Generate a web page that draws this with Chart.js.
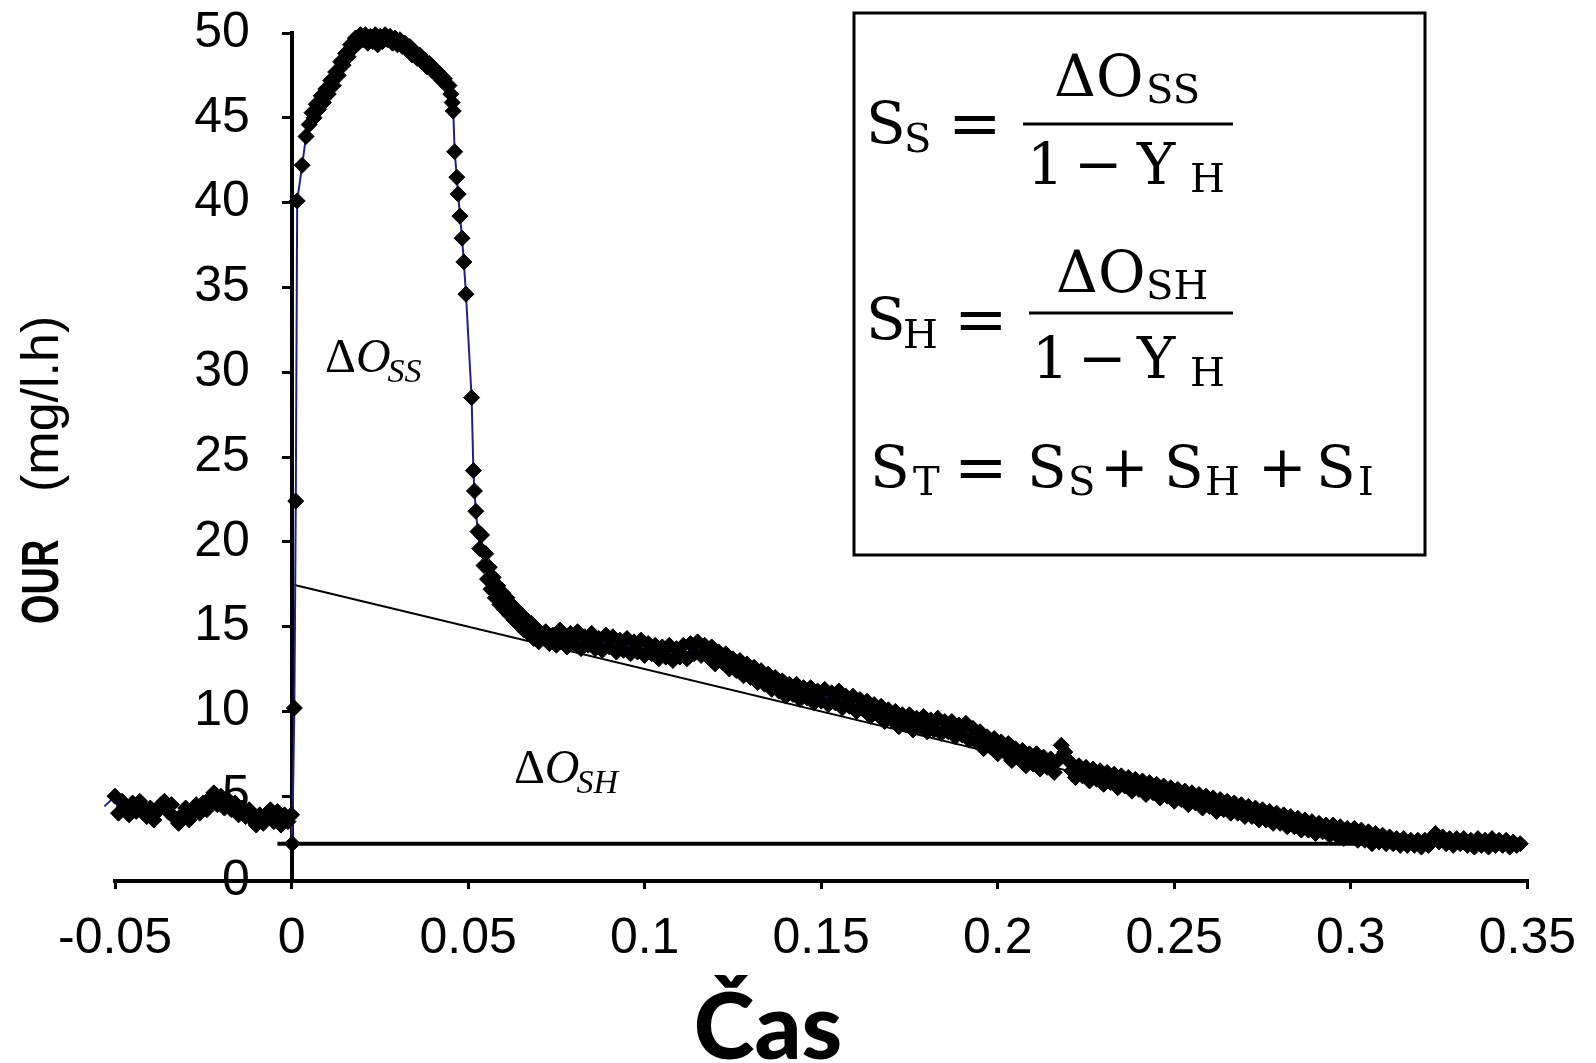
<!DOCTYPE html>
<html>
<head>
<meta charset="utf-8">
<script src="https://cdn.jsdelivr.net/npm/chart.js@4.4.1/dist/chart.umd.min.js"></script>
<style>
  html, body { margin: 0; padding: 0; background: #fff; }
</style>
</head>
<body>
<canvas id="chOur" width="1596" height="1063"></canvas>
<script>
// OUR (mg/l.h) vs. čas – respirogram
const predDavkou = [[-0.053,4.4],[-0.050,5.0],[-0.049,4.0],[-0.048,4.7],[-0.047,4.2],[-0.046,3.9],[-0.045,4.6],[-0.044,4.1],[-0.043,4.7],[-0.042,4.3],[-0.041,3.8],[-0.040,4.3],[-0.039,3.6],[-0.038,4.1],[-0.037,4.5],[-0.036,4.7],[-0.035,4.1],[-0.034,4.5],[-0.033,3.7],[-0.032,3.4],[-0.031,3.9],[-0.030,4.3],[-0.029,3.6],[-0.028,4.0],[-0.027,4.5],[-0.026,4.0],[-0.025,4.6],[-0.024,4.2],[-0.023,4.9],[-0.022,5.2],[-0.021,4.5],[-0.020,5.0],[-0.019,4.3],[-0.018,4.8],[-0.017,4.2],[-0.016,4.6],[-0.015,3.9],[-0.014,4.3],[-0.013,3.8],[-0.012,4.2],[-0.011,3.6],[-0.010,3.3],[-0.009,3.9],[-0.008,3.4],[-0.007,4.0],[-0.006,4.2],[-0.005,3.5],[-0.004,4.1],[-0.003,3.3],[-0.002,3.9],[-0.001,3.5],[0.0000,3.9]];
const nabeh = [[0.0002,2.2],[0.0008,10.2],[0.0012,22.4],[0.0016,40.1],[0.0030,42.2],[0.0041,43.9]];
const vrchol = [[0.0050,44.6],[0.0058,45.3],[0.0064,45.0],[0.0070,45.8],[0.0077,45.5],[0.0084,46.3],[0.0090,45.9],[0.0097,46.7],[0.0104,46.4],[0.0111,47.2],[0.0118,46.9],[0.0125,47.7],[0.0132,47.5],[0.0139,48.3],[0.0146,48.1],[0.0153,48.8],[0.0160,48.6],[0.0167,49.3],[0.0174,49.1],[0.0181,49.7],[0.0188,49.4],[0.0195,49.9],[0.0202,49.6],[0.0209,49.9],[0.0216,49.4],[0.0223,49.8],[0.0230,49.5],[0.0237,49.9],[0.0244,49.3],[0.0251,49.8],[0.0258,49.5],[0.0265,49.9],[0.0272,49.6],[0.0279,49.8],[0.0286,49.4],[0.0293,49.7],[0.0300,49.3],[0.0307,49.6],[0.0314,49.2],[0.0321,49.4],[0.0328,49.0],[0.0335,49.2],[0.0342,48.7],[0.0349,48.9],[0.0356,48.5],[0.0363,48.7],[0.0370,48.3],[0.0377,48.4],[0.0384,48.0],[0.0391,48.2],[0.0398,47.8],[0.0405,47.9],[0.0412,47.5],[0.0419,47.6],[0.0426,47.2],[0.0433,47.3],[0.0440,46.9],[0.0446,46.9],[0.0451,46.4],[0.0455,45.9],[0.0458,45.4]];
const pokles = [[0.0462,43.0],[0.0468,41.5],[0.0472,40.5],[0.0477,39.2],[0.0483,37.9],[0.0488,36.5],[0.0494,34.6],[0.0510,28.5],[0.0515,24.2],[0.0518,23.0],[0.0522,21.8],[0.0528,20.6],[0.0533,19.6],[0.0538,20.4],[0.0545,18.6],[0.0550,19.3],[0.0555,17.8],[0.0560,18.5],[0.0565,17.2],[0.0571,17.9],[0.0577,16.7],[0.0584,17.4],[0.0590,16.3],[0.0597,17.0],[0.0603,16.0],[0.0610,16.7],[0.0617,15.7],[0.0623,16.3],[0.0630,15.4],[0.0637,16.0],[0.0644,15.1],[0.0651,15.7],[0.0658,14.8],[0.0665,15.4],[0.0672,14.6],[0.0679,15.2],[0.0686,14.3],[0.0693,14.9],[0.0700,14.1],[0.0710,14.5]];
const dobeh = [[0.072,14.7],[0.073,14.0],[0.074,14.5],[0.075,13.9],[0.076,14.8],[0.077,14.1],[0.078,13.8],[0.079,14.6],[0.080,14.0],[0.081,14.7],[0.082,13.7],[0.083,14.4],[0.084,13.9],[0.085,14.6],[0.086,13.7],[0.087,14.3],[0.088,13.6],[0.089,14.5],[0.090,13.8],[0.091,14.4],[0.092,13.5],[0.093,14.2],[0.094,13.6],[0.095,14.3],[0.096,13.4],[0.097,14.1],[0.098,13.5],[0.099,14.2],
  [0.100,13.3],[0.101,14.0],[0.102,13.4],[0.103,13.9],[0.104,13.1],[0.105,13.8],[0.106,13.2],[0.107,13.9],[0.108,13.0],[0.109,13.7],[0.110,13.2],[0.111,13.9],[0.112,13.1],[0.113,14.0],[0.114,13.4],[0.115,14.1],[0.116,13.3],[0.117,13.9],[0.118,13.2],[0.119,13.8],
  [0.120,12.8],[0.121,13.5],[0.122,12.9],[0.123,13.4],[0.124,12.5],[0.125,13.1],[0.126,12.4],[0.127,13.0],[0.128,12.1],[0.129,12.8],[0.130,12.0],[0.131,12.6],[0.132,11.7],[0.133,12.4],[0.134,11.6],[0.135,12.2],[0.136,11.3],[0.137,12.0],[0.138,11.2],[0.139,11.8],
  [0.140,10.9],[0.141,11.6],[0.142,11.0],[0.143,11.6],[0.144,10.7],[0.145,11.4],[0.146,10.8],[0.147,11.4],[0.148,10.5],[0.149,11.2],[0.150,10.6],[0.151,11.3],[0.152,10.4],[0.153,11.1],[0.154,10.5],[0.155,11.2],[0.156,10.2],[0.157,10.9],[0.158,10.3],[0.159,10.9],
  [0.160,10.0],[0.161,10.7],[0.162,10.1],[0.163,10.6],[0.164,9.7],[0.165,10.4],[0.166,9.8],[0.167,10.3],[0.168,9.4],[0.169,10.1],[0.170,9.5],[0.171,10.0],[0.172,9.1],[0.173,9.8],[0.174,9.2],[0.175,9.8],[0.176,8.9],[0.177,9.6],[0.178,9.1],[0.179,9.7],
  [0.180,8.8],[0.181,9.5],[0.182,8.9],[0.183,9.6],[0.184,8.7],[0.185,9.4],[0.186,8.8],[0.187,9.4],[0.188,8.5],[0.189,9.2],[0.190,8.6],[0.191,9.3],[0.192,8.3],[0.193,9.0],[0.194,8.2],[0.195,8.8],[0.196,7.8],[0.197,8.5],[0.198,7.9],[0.199,8.4],
  [0.200,7.5],[0.201,8.2],[0.202,7.6],[0.203,8.1],[0.204,7.1],[0.205,7.8],[0.206,7.2],[0.207,7.7],[0.208,6.8],[0.209,7.5],[0.210,6.9],[0.211,7.5],[0.212,6.6],[0.213,7.3],[0.214,6.7],[0.215,7.2],[0.216,6.4],[0.217,7.1],[0.218,8.0],[0.219,7.6],
  [0.220,7.1],[0.221,6.5],[0.222,6.1],[0.223,6.8],[0.224,6.2],[0.225,6.7],[0.226,5.9],[0.227,6.6],[0.228,6.0],[0.229,6.5],[0.230,5.7],[0.231,6.4],[0.232,5.8],[0.233,6.3],[0.234,5.5],[0.235,6.2],[0.236,5.6],[0.237,6.1],[0.238,5.3],[0.239,6.0],
  [0.240,5.4],[0.241,5.9],[0.242,5.1],[0.243,5.8],[0.244,5.2],[0.245,5.7],[0.246,4.9],[0.247,5.6],[0.248,5.0],[0.249,5.5],[0.250,4.7],[0.251,5.4],[0.252,4.8],[0.253,5.3],[0.254,4.5],[0.255,5.2],[0.256,4.6],[0.257,5.1],[0.258,4.3],[0.259,5.0],
  [0.260,4.4],[0.261,4.9],[0.262,4.1],[0.263,4.8],[0.264,4.2],[0.265,4.7],[0.266,4.0],[0.267,4.6],[0.268,4.0],[0.269,4.5],[0.270,3.8],[0.271,4.4],[0.272,3.8],[0.273,4.3],[0.274,3.6],[0.275,4.2],[0.276,3.6],[0.277,4.1],[0.278,3.4],[0.279,4.0],
  [0.280,3.4],[0.281,3.9],[0.282,3.2],[0.283,3.8],[0.284,3.2],[0.285,3.7],[0.286,3.0],[0.287,3.6],[0.288,3.0],[0.289,3.5],[0.290,2.8],[0.291,3.4],[0.292,2.9],[0.293,3.3],[0.294,2.7],[0.295,3.3],[0.296,2.7],[0.297,3.2],[0.298,2.5],[0.299,3.1],
  [0.300,2.6],[0.301,3.1],[0.302,2.4],[0.303,3.0],[0.304,2.4],[0.305,2.9],[0.306,2.2],[0.307,2.8],[0.308,2.3],[0.309,2.7],[0.310,2.2],[0.311,2.6],[0.312,2.2],[0.313,2.5],[0.314,2.1],[0.315,2.5],[0.316,2.1],[0.317,2.4],[0.318,2.1],[0.319,2.4],
  [0.320,2.0],[0.321,2.4],[0.322,2.1],[0.323,2.5],[0.324,2.8],[0.325,2.3],[0.326,2.6],[0.327,2.2],[0.328,2.5],[0.329,2.1],[0.330,2.5],[0.331,2.2],[0.332,2.5],[0.333,2.1],[0.334,2.4],[0.335,2.0],[0.336,2.5],[0.337,2.1],[0.338,2.4],[0.339,2.0],
  [0.340,2.5],[0.341,2.1],[0.342,2.4],[0.343,2.1],[0.344,2.4],[0.345,2.0],[0.346,2.3],[0.347,2.1],[0.348,2.2]];

// tečna (hranice ΔO_SH) a základní linie
const tecnaCas = [0, 0.3];
const tecnaOur = [17.5, 2.5];
const zakladCas = [-0.004, 0.345];
const zakladOur = [2.2, 2.2];

const casTicks = [-0.05, 0, 0.05, 0.1, 0.15, 0.2, 0.25, 0.3, 0.35];
const ourTicks = [0, 5, 10, 15, 20, 25, 30, 35, 40, 45, 50];

const sans = '"Liberation Sans", Arial, Helvetica, sans-serif';
const serif = '"DejaVu Serif", "Liberation Serif", serif';
const times = '"Liberation Serif", "Times New Roman", serif';

const body = [...predDavkou, ...nabeh, ...vrchol, ...pokles, ...dobeh].map(([x, y]) => ({ x, y }));

const textPlugin = {
  id: 'texty',
  afterDraw(chart) {
    const ctx = chart.ctx;
    const xs = chart.scales.x, ys = chart.scales.y;
    ctx.save();
    ctx.fillStyle = '#000';
    ctx.strokeStyle = '#000';
    ctx.textBaseline = 'alphabetic';
    ctx.textAlign = 'left';

    // popisek osy y (OUR je v originále zúžené)
    ctx.save();
    ctx.translate(58, 0);
    ctx.rotate(-Math.PI / 2);
    ctx.save();
    ctx.translate(-624, 0);
    ctx.scale(0.73, 1);
    ctx.font = 'bold 52px ' + sans;
    ctx.fillText('OUR', 0, 0);
    ctx.restore();
    ctx.font = '52px ' + sans;
    ctx.fillText('(mg/l.h)', -492, 0);
    ctx.restore();

    // popisek osy x
    ctx.font = '900 92px Lato, "Open Sans", sans-serif';
    ctx.textAlign = 'center';
    ctx.fillText('Čas', 768, 1059);
    ctx.textAlign = 'left';

    // ΔO popisky v grafu
    const delta = (px, py, sub) => {
      ctx.font = '48px ' + times;
      ctx.fillText('Δ', px, py);
      let w = ctx.measureText('Δ').width;
      ctx.font = 'italic 48px ' + times;
      ctx.fillText('O', px + w, py);
      w += ctx.measureText('O').width;
      ctx.font = 'italic 34px ' + times;
      ctx.fillText(sub, px + w - 3, py + 10);
    };
    delta(xs.getPixelForValue(0.0095), ys.getPixelForValue(30.0), 'SS');
    delta(xs.getPixelForValue(0.063), ys.getPixelForValue(5.8), 'SH');

    // rámeček se vzorci
    ctx.lineWidth = 3;
    ctx.strokeRect(854, 13, 571, 542);
    const put = (t, px, py, size) => { ctx.font = size + 'px ' + serif; ctx.fillText(t, px, py); };
    const bar = (xa, xb, py) => { ctx.fillRect(xa, py - 1.5, xb - xa, 3); };
    const big = 58, sm = 40, eq = 64;
    // S_S
    put('S', 866, 143, big); put('S', 904, 152, sm); put('=', 948, 145, eq);
    put('ΔO', 1054, 96, big); put('SS', 1146, 103, sm);
    bar(1023, 1233, 124);
    put('1', 1027, 184, big); put('−', 1074, 184, big); put('Y', 1137, 184, big); put('H', 1190, 192, sm);
    // S_H
    put('S', 866, 339, big); put('H', 903, 348, sm); put('=', 954, 341, eq);
    put('ΔO', 1056, 292, big); put('SH', 1146, 299, sm);
    bar(1029, 1233, 313);
    put('1', 1032, 378, big); put('−', 1078, 378, big); put('Y', 1137, 378, big); put('H', 1190, 386, sm);
    // S_T
    put('S', 870, 487, big); put('T', 913, 495, sm); put('=', 954, 489, eq);
    put('S', 1027, 487, big); put('S', 1068, 495, sm); put('+', 1100, 487, big);
    put('S', 1164, 487, big); put('H', 1205, 495, sm); put('+', 1258, 487, big);
    put('S', 1316, 487, big); put('I', 1358, 495, sm);
    ctx.restore();
  }
};

const axisCommon = {
  grid: { drawOnChartArea: false, drawTicks: true, tickLength: 8, color: '#000', lineWidth: 3 },
  border: { display: true, color: '#000', width: 4 }
};

new Chart(document.getElementById('chOur'), {
  type: 'scatter',
  data: {
    datasets: [
      {
        label: 'OUR', data: body, showLine: true, order: 0,
        borderColor: '#20208c', borderWidth: 2,
        pointStyle: 'rectRot', pointRadius: c => (c.raw && c.raw.x < -0.0505 ? 0 : 8),
        pointBackgroundColor: '#000', pointBorderColor: '#000', pointBorderWidth: 1,
        clip: { left: 12, right: 12, top: 10, bottom: 10 }
      },
      {
        label: 'tečna', data: tecnaCas.map((x, i) => ({ x, y: tecnaOur[i] })), showLine: true, order: 1,
        borderColor: '#000', borderWidth: 2, pointRadius: 0
      },
      {
        label: 'základ', data: zakladCas.map((x, i) => ({ x, y: zakladOur[i] })), showLine: true, order: 2,
        borderColor: '#000', borderWidth: 4, pointRadius: 0
      }
    ]
  },
  options: {
    responsive: false, animation: false,
    layout: { padding: { left: 115, right: 61, top: 28, bottom: 0 } },
    plugins: { legend: { display: false }, tooltip: { enabled: false } },
    scales: {
      x: {
        type: 'linear', position: 'bottom', min: -0.05, max: 0.35,
        afterBuildTicks: s => { s.ticks = casTicks.map(v => ({ value: v })); },
        afterFit: s => { s.height = 182; },
        ticks: { color: '#000', font: { family: sans, size: 50 }, padding: 20, maxRotation: 0, autoSkip: false,
                 callback: v => String(Math.round(v * 100) / 100) },
        ...axisCommon
      },
      y: {
        type: 'linear', position: { x: 0 }, min: 0, max: 50,
        afterBuildTicks: s => { s.ticks = ourTicks.map(v => ({ value: v })); },
        // popisky stojí vlevo od osy s mezerou
        ticks: { color: '#000', font: { family: sans, size: 50 }, autoSkip: false, callback: v => v + '   ' },
        ...axisCommon
      }
    }
  },
  plugins: [textPlugin]
});
</script>
</body>
</html>
